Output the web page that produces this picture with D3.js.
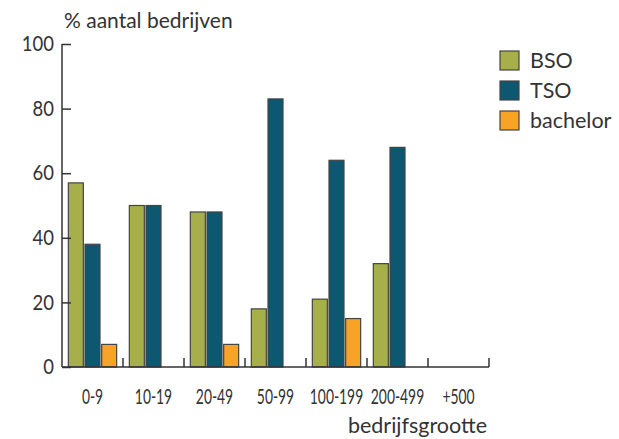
<!DOCTYPE html>
<html><head><meta charset="utf-8">
<script src="https://cdn.jsdelivr.net/npm/d3@7"></script>
<style>body{margin:0;background:#fff}</style>
</head><body><svg id="c" width="619" height="439"></svg>
<script>
const categories = ["0-9","10-19","20-49","50-99","100-199","200-499","+500"];
const seriesNames = ["BSO","TSO","bachelor"];
const BSO = [57,50,48,18,21,32,0];
const TSO = [38,50,48,83,64,68,0];
const bachelor = [7,0,7,0,15,0,0];
const yTicks = [0,20,40,60,80,100];
const colors = ["#a7af4a","#0d5870","#f7a326"];
const values = [BSO,TSO,bachelor];

const svg = d3.select("#c");
const x0 = 62, x1 = 489, yTop = 44, yBot = 367;
const x = d3.scaleBand().domain(categories).range([x0,x1]).paddingInner(0).paddingOuter(0);
const xs = d3.scaleBand().domain(seriesNames).range([0,x.bandwidth()]).paddingInner(0.1).paddingOuter(0.38);
const y = d3.scaleLinear().domain([0,100]).range([yBot,yTop]);
const font = "Lato,'DejaVu Sans',sans-serif";
const txt = "#333";

// bars
seriesNames.forEach((s,si)=>{
  svg.append("g").selectAll("rect").data(categories).join("rect")
    .attr("x",d=>x(d)+xs(s))
    .attr("width",xs.bandwidth())
    .attr("y",(d,i)=>y(values[si][i]))
    .attr("height",(d,i)=>yBot-y(values[si][i]))
    .attr("fill",colors[si])
    .attr("stroke",(d,i)=>values[si][i]===0?colors[si]:"#444")
    .attr("stroke-width",1.2);
});

// y axis
const ySx = 0.88;
const ya = svg.append("g").attr("transform",`translate(${x0},0)`)
  .call(d3.axisLeft(y).tickValues(yTicks).tickSize(-9));
ya.select(".domain").remove();
ya.selectAll("line").attr("stroke","#333").attr("stroke-width",1.5);
ya.selectAll("text").attr("font-family",font).attr("font-size",21).attr("fill",txt)
  .attr("x",-8/ySx).attr("transform",`scale(${ySx},1)`);
svg.append("line").attr("x1",x0).attr("x2",x0).attr("y1",yTop).attr("y2",yBot).attr("stroke","#333").attr("stroke-width",1.5);

// x axis
const xSx = 0.66;
svg.append("line").attr("x1",x0).attr("x2",x1).attr("y1",yBot).attr("y2",yBot).attr("stroke","#333").attr("stroke-width",1.5);
const xa = svg.append("g").attr("transform",`translate(0,${yBot})`)
  .call(d3.axisBottom(x).tickSize(0).tickPadding(22));
xa.select(".domain").remove();
xa.selectAll("text").attr("font-family",font).attr("font-size",21).attr("fill",txt)
  .attr("transform",`scale(${xSx},1)`);
svg.append("g").selectAll("line").data(categories).join("line")
  .attr("x1",d=>x(d)+x.bandwidth()).attr("x2",d=>x(d)+x.bandwidth())
  .attr("y1",yBot).attr("y2",yBot-9).attr("stroke","#333").attr("stroke-width",1.5);

// titles
svg.append("text").attr("x",64).attr("y",28).text("% aantal bedrijven")
  .attr("font-family",font).attr("font-size",21).attr("fill",txt);
svg.append("text").attr("x",487).attr("y",433).attr("text-anchor","end").text("bedrijfsgrootte")
  .attr("font-family",font).attr("font-size",21.5).attr("fill",txt);

// legend
const lg = svg.append("g").selectAll("g").data(seriesNames).join("g")
  .attr("transform",(d,i)=>`translate(500,${51+i*30})`);
lg.append("rect").attr("width",19).attr("height",19).attr("fill",(d,i)=>colors[i]).attr("stroke","#444").attr("stroke-width",1.2);
lg.append("text").attr("x",30).attr("y",17).text(d=>d)
  .attr("font-family",font).attr("font-size",21.5).attr("fill",txt);
</script></body></html>
